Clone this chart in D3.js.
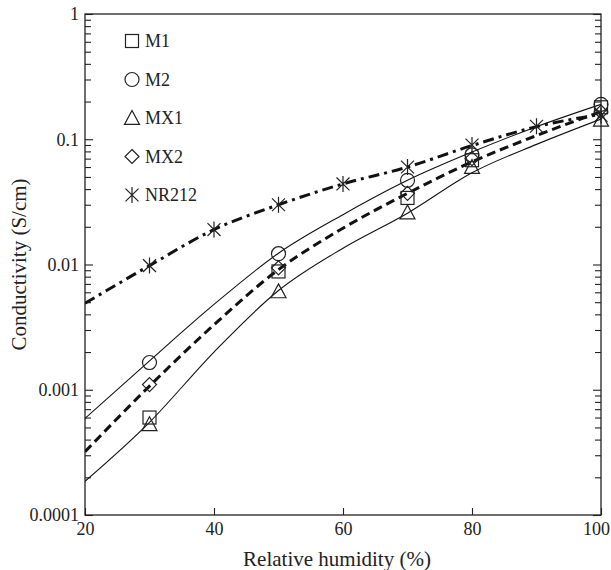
<!DOCTYPE html>
<html>
<head>
<meta charset="utf-8">
<script src="https://cdn.jsdelivr.net/npm/d3@7/dist/d3.min.js"></script>
<style>
  body { margin: 0; background: #fff; }
  svg { display: block; }
</style>
</head>
<body>
<svg id="chart" width="611" height="570"></svg>
<script>
// ---- data ----
const humidity = [30, 50, 70, 80, 100];
const M1  = [0.0006, 0.0088, 0.034, 0.068, 0.18];
const M2  = [0.00165, 0.0122, 0.047, 0.075, 0.19];
const MX1 = [0.00053, 0.0061, 0.026, 0.060, 0.143];
const MX2 = [0.0011, 0.0094, 0.037, 0.070, 0.165];
const nrHumidity = [30, 40, 50, 60, 70, 80, 90, 100];
const NR212 = [0.0098, 0.019, 0.030, 0.044, 0.060, 0.090, 0.127, 0.155];

// fitted curves
const fitX = [20, 30, 40, 50, 60, 70, 80, 90, 100];
const fitM2  = [0.00059, 0.0017, 0.0048, 0.0123, 0.025, 0.047, 0.079, 0.126, 0.19];
const fitMX2 = [0.00032, 0.00107, 0.0033, 0.0091, 0.0195, 0.037, 0.066, 0.107, 0.166];
const fitMX1 = [0.000186, 0.00055, 0.0020, 0.0062, 0.0135, 0.0257, 0.054, 0.091, 0.145];
const fitNR  = [0.0049, 0.0098, 0.019, 0.030, 0.044, 0.060, 0.089, 0.126, 0.158];

const xTicks = [20, 40, 60, 80, 100];
const yTicks = [0.0001, 0.001, 0.01, 0.1, 1];
const yTickLabels = ["0.0001", "0.001", "0.01", "0.1", "1"];
const legendNames = ["M1", "M2", "MX1", "MX2", "NR212"];

// ---- layout ----
const FONT = "'Liberation Serif', Tinos, 'Nimbus Roman', 'DejaVu Serif', serif";
const L = 85, R = 601, T = 14, B = 515;
const svg = d3.select("#chart");
const x = d3.scaleLinear().domain([20, 100]).range([L, R]);
const y = d3.scaleLog().domain([0.0001, 1]).range([B, T]);
const ink = "#222";

// minor ticks
const minors = [];
for (let e = -4; e < 0; e++) for (let m = 2; m <= 9; m++) minors.push(m * Math.pow(10, e));

function styleAxis(g) {
  g.attr("font-family", null).attr("font-size", null);
  g.select(".domain").remove();
  g.selectAll("line").attr("stroke", ink).attr("stroke-width", 1.1);
  g.selectAll("text").style("font-family", FONT).style("font-size", "18px").attr("fill", ink);
}

svg.append("g").attr("transform", `translate(${L},0)`)
  .call(d3.axisLeft(y).tickValues(yTicks).tickSize(-8).tickSizeOuter(0).tickPadding(6)
    .tickFormat((d, i) => yTickLabels[i]))
  .call(styleAxis);
svg.append("g").attr("transform", `translate(${L},0)`)
  .call(d3.axisLeft(y).tickValues(minors).tickSize(-6).tickSizeOuter(0).tickFormat(""))
  .call(styleAxis);
svg.append("g").attr("transform", `translate(${R},0)`)
  .call(d3.axisRight(y).tickValues(yTicks).tickSize(-8).tickSizeOuter(0).tickFormat(""))
  .call(styleAxis);
svg.append("g").attr("transform", `translate(${R},0)`)
  .call(d3.axisRight(y).tickValues(minors).tickSize(-6).tickSizeOuter(0).tickFormat(""))
  .call(styleAxis);
const xg = svg.append("g").attr("transform", `translate(0,${B})`)
  .call(d3.axisBottom(x).tickValues(xTicks).tickSize(-7).tickSizeOuter(0).tickPadding(7))
  .call(styleAxis);
xg.selectAll(".tick text").filter(d => d === 100).attr("dx", -5);

// frame
svg.append("rect").attr("x", L).attr("y", T).attr("width", R - L).attr("height", B - T)
  .attr("fill", "none").attr("stroke", ink).attr("stroke-width", 1.3);

// axis titles
svg.append("text").attr("x", (L + R) / 2 - 6).attr("y", 566).attr("text-anchor", "middle")
  .style("font-family", FONT).style("font-size", "21px").attr("fill", ink).text("Relative humidity (%)");
svg.append("text").attr("transform", `translate(26,${(T + B) / 2}) rotate(-90)`)
  .attr("text-anchor", "middle").style("font-family", FONT).style("font-size", "21px").attr("fill", ink)
  .text("Conductivity (S/cm)");

// curves
svg.append("clipPath").attr("id", "clip").append("rect")
  .attr("x", L).attr("y", T).attr("width", R - L).attr("height", B - T);
const line = d3.line().x(d => x(d[0])).y(d => y(d[1])).curve(d3.curveMonotoneX);
const plotG = svg.append("g").attr("clip-path", "url(#clip)");
function curve(vals, width, dash) {
  plotG.append("path").datum(fitX.map((v, i) => [v, vals[i]]))
    .attr("d", line).attr("fill", "none").attr("stroke", "#111")
    .attr("stroke-width", width).attr("stroke-dasharray", dash);
}
curve(fitM2, 1.1, null);
curve(fitMX1, 1.1, null);
curve(fitMX2, 3, "9,5");
curve(fitNR, 3, "11,5,3,5");

// markers
function drawMarker(g, type, cx, cy) {
  const s = ink, w = 1.2;
  if (type === "M1") {
    g.append("rect").attr("x", cx - 6.5).attr("y", cy - 6.5).attr("width", 13).attr("height", 13)
      .attr("fill", "none").attr("stroke", s).attr("stroke-width", w);
  } else if (type === "M2") {
    g.append("circle").attr("cx", cx).attr("cy", cy).attr("r", 7)
      .attr("fill", "none").attr("stroke", s).attr("stroke-width", w);
  } else if (type === "MX1") {
    const h = 7.5;
    g.append("path").attr("d", `M${cx},${cy - h}L${cx + h},${cy + h * 0.85}L${cx - h},${cy + h * 0.85}Z`)
      .attr("fill", "none").attr("stroke", s).attr("stroke-width", w);
  } else if (type === "MX2") {
    const h = 7;
    g.append("path").attr("d", `M${cx},${cy - h}L${cx + h},${cy}L${cx},${cy + h}L${cx - h},${cy}Z`)
      .attr("fill", "none").attr("stroke", s).attr("stroke-width", w);
  } else {
    const h = 8, d = 6.5;
    g.append("path").attr("d",
      `M${cx},${cy - h}L${cx},${cy + h}M${cx - d},${cy - h * 0.8}L${cx + d},${cy + h * 0.8}M${cx + d},${cy - h * 0.8}L${cx - d},${cy + h * 0.8}`)
      .attr("fill", "none").attr("stroke", s).attr("stroke-width", w);
  }
}
const mk = svg.append("g");
const seriesList = [["M1", humidity, M1], ["M2", humidity, M2], ["MX1", humidity, MX1], ["MX2", humidity, MX2], ["NR212", nrHumidity, NR212]];
seriesList.forEach(([name, xs, ys]) => {
  xs.forEach((xv, i) => drawMarker(mk, name, x(xv), y(ys[i])));
});

// legend
const lg = svg.append("g");
legendNames.forEach((name, i) => {
  const cy = 41 + i * 38.5;
  drawMarker(lg, name, 132, cy);
  lg.append("text").attr("x", 145).attr("y", cy + 6).style("font-family", FONT).style("font-size", "18px")
    .attr("fill", ink).text(name);
});
</script>
</body>
</html>
